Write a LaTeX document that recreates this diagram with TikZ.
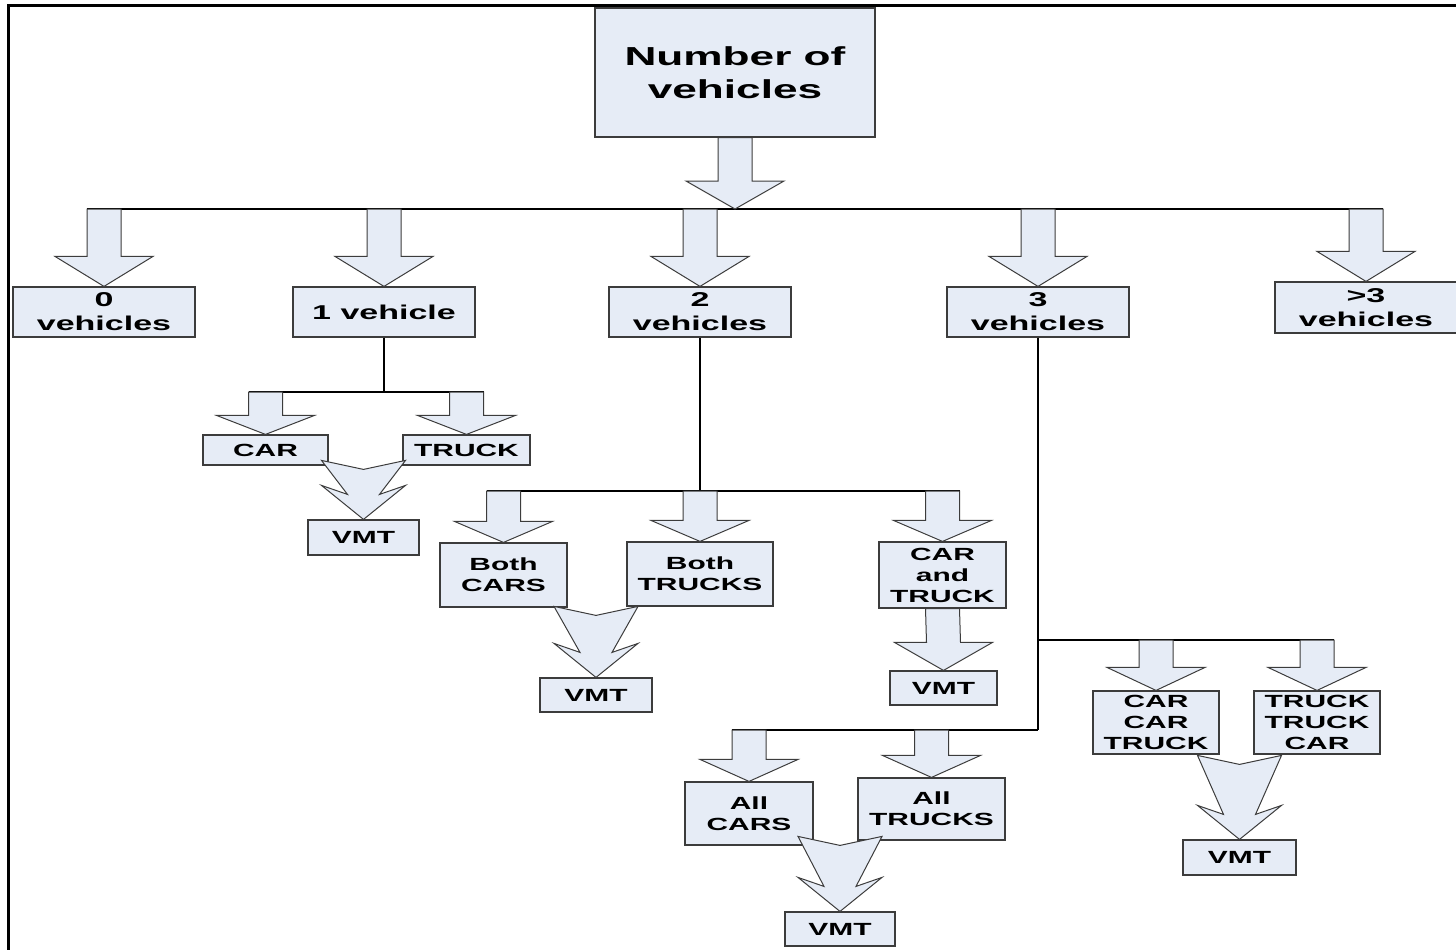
\documentclass[tikz,border=0pt]{standalone}
\usepackage{fontspec}
\setmainfont{Liberation Sans}[FakeStretch=1.7]
\usetikzlibrary{calc}
\definecolor{boxfill}{HTML}{E6ECF6}
\definecolor{boxline}{HTML}{3C3C3C}
\newcommand{\bigfont}{\fontsize{13}{16.5}\selectfont\bfseries}
\newcommand{\lvlone}{\fontsize{10}{12}\selectfont\bfseries}
\newcommand{\lvltwo}{\fontsize{8.8}{10.5}\selectfont\bfseries}
% block arrow: shaft top, tip, head length
\newcommand{\blkarrow}[3]{%
  \draw[blk] #2 -- ++(-49,-#3) -- ++(32,0) -- ($#1+(-17,0)$) -- ++(34,0)
    -- ($#2+(17,-#3)$) -- ++(32,0) -- cycle;}
% two tails joined into one head: tip, tail length
\newcommand{\mrgarrow}[2]{%
  \draw[blk, shift={#1}] (0,0) -- (-42,-34) -- (-16,-25) -- (-42,-#2)
    -- (0,-#2+9) -- (42,-#2) -- (16,-25) -- (42,-34) -- cycle;}

\begin{document}
\begin{tikzpicture}[x=0.5pt, y=-0.5pt,
  box/.style={draw=boxline, line width=0.6pt, fill=boxfill, inner sep=0pt,
              align=center, font=\lvltwo},
  sz/.style 2 args={minimum width=#1*0.5pt, minimum height=#2*0.5pt},
  blk/.style={draw=boxline, line width=0.5pt, fill=boxfill},
  bus/.style={draw=black, line width=0.55pt}]
  \useasboundingbox (0,0) rectangle (1456,949);
  \clip (0,0) rectangle (1456,949);
  % frame
  \draw[line width=1.2pt] (1460,5.5) -- (8.5,5.5) -- (8.5,955);

  \node[box, sz={280}{129}, font=\bigfont] (num) at (735,72.5) {Number of\\vehicles};
  \node[box, sz={182}{50}, font=\lvlone] (zero)  at (104,312)    {0\\vehicles};
  \node[box, sz={182}{50}, font=\lvlone] (one)   at (384,312)    {1 vehicle};
  \node[box, sz={182}{50}, font=\lvlone] (two)   at (700,312)    {2\\vehicles};
  \node[box, sz={182}{50}, font=\lvlone] (three) at (1038,312)   {3\\vehicles};
  \node[box, sz={182}{51}, font=\lvlone] (more)  at (1366,307.5) {>3\\vehicles};

  \node[box, sz={125}{30}] (car)     at (265.5,450)    {CAR};
  \node[box, sz={127}{30}] (truck)   at (466.5,450)    {TRUCK};
  \node[box, sz={111}{35}] (vmtA)    at (363.5,537.5)  {VMT};
  \node[box, sz={127}{64}] (bcars)   at (503.5,575)    {Both\\CARS};
  \node[box, sz={146}{64}] (btrucks) at (700,574)      {Both\\TRUCKS};
  \node[box, sz={112}{34}] (vmtB)    at (596,695)      {VMT};
  \node[box, sz={127}{66}] (cat)     at (942.5,575)    {CAR\\and\\TRUCK};
  \node[box, sz={107}{34}] (vmtC)    at (943.5,688)    {VMT};
  \node[box, sz={126}{63}] (cct)     at (1156,722.5)   {CAR\\CAR\\TRUCK};
  \node[box, sz={126}{63}] (ttc)     at (1317,722.5)   {TRUCK\\TRUCK\\CAR};
  \node[box, sz={113}{35}] (vmtD)    at (1239.5,857.5) {VMT};
  \node[box, sz={128}{63}] (acars)   at (749,813.5)    {All\\CARS};
  \node[box, sz={147}{62}] (atrucks) at (931.5,809)    {All\\TRUCKS};
  \node[box, sz={110}{34}] (vmtE)    at (840,929)      {VMT};

  \coordinate (hub)  at (735,209);
  \coordinate (bus1) at (384,392);
  \coordinate (bus2) at (700,491);
  \coordinate (bus3) at (1038,640);
  \coordinate (bus4) at (1038,730);

  \draw[bus] ($(zero.north |- hub)+(-17,0)$) -- ($(more.north |- hub)+(17,0)$);
  \draw[bus] (one.south) -- (one.south |- bus1);
  \draw[bus] ($(car.north |- bus1)+(-17,0)$) -- ($(truck.north |- bus1)+(17,0)$);
  \draw[bus] (two.south) -- (two.south |- bus2);
  \draw[bus] ($(bcars.north |- bus2)+(-17,0)$) -- ($(cat.north |- bus2)+(17,0)$);
  \draw[bus] (three.south) -- (three.south |- bus4);
  \draw[bus] (bus3) -- ($(ttc.north |- bus3)+(17,0)$);
  \draw[bus] ($(acars.north |- bus4)+(-17,0)$) -- (bus4);

  \blkarrow{(num.south)}{(hub)}{28}
  \foreach \n in {zero,one,two,three,more}{\blkarrow{(\n.north |- hub)}{(\n.north)}{30}}
  \foreach \n in {car,truck}{\blkarrow{(\n.north |- bus1)}{(\n.north)}{19}}
  \foreach \n in {bcars,btrucks,cat}{\blkarrow{(\n.north |- bus2)}{(\n.north)}{21}}
  \foreach \n in {cct,ttc}{\blkarrow{(\n.north |- bus3)}{(\n.north)}{23}}
  \foreach \n in {acars,atrucks}{\blkarrow{(\n.north |- bus4)}{(\n.north)}{22}}
  \blkarrow{(cat.south)}{(vmtC.north)}{28}
  \mrgarrow{(vmtA.north)}{59}
  \mrgarrow{(vmtB.north)}{71}
  \mrgarrow{(vmtD.north)}{84}
  \mrgarrow{(vmtE.north)}{75}
\end{tikzpicture}
\end{document}
